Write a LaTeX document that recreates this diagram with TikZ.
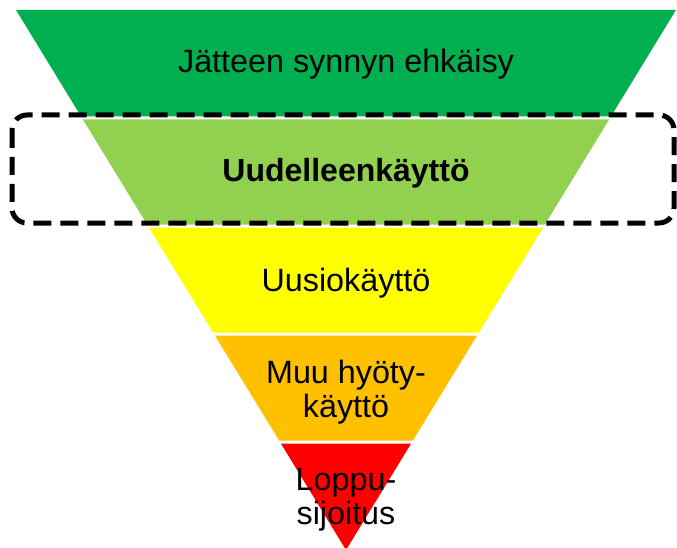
\documentclass[tikz,border=0pt]{standalone}
\usepackage{fontspec}
\setmainfont{Liberation Sans}
\definecolor{cGreen}{HTML}{00B050}
\definecolor{cLight}{HTML}{92D050}
\definecolor{cYellow}{HTML}{FFFF00}
\definecolor{cOrange}{HTML}{FFC000}
\definecolor{cRed}{HTML}{FF0000}
\begin{document}
\begin{tikzpicture}[x=1pt,y=-1pt,
  band/.style={draw=none},
  label/.style={inner sep=0pt,anchor=base,align=center,font=\fontsize{32.3}{34}\selectfont},
  focusbox/.style={draw=black,line width=5pt,dash pattern=on 18pt off 9pt,rounded corners=15pt}]
\useasboundingbox (0,0) rectangle (677,548);
% bands: half width hw(y)=0.61111*(550-y), centre x=346
\fill[cGreen]  (16,10) -- (676,10) -- (610.9,116.5) -- (81.1,116.5) -- cycle;
\fill[cLight]  (82.9,119.5) -- (609.1,119.5) -- (544.9,224.5) -- (147.1,224.5) -- cycle;
\fill[cYellow] (148.9,227.5) -- (543.1,227.5) -- (478.9,332.5) -- (213.1,332.5) -- cycle;
\fill[cOrange] (214.9,335.5) -- (477.1,335.5) -- (412.9,440.5) -- (279.1,440.5) -- cycle;
\fill[cRed]    (280.9,443.5) -- (411.1,443.5) -- (346,550) -- cycle;
% texts (multi-line nodes: base = last line's baseline)
\node[label] (t1) at (346,73) {Jätteen synnyn ehkäisy};
\node[label,font=\fontsize{32}{34}\selectfont\bfseries] (t2) at (346,182) {Uudelleenkäyttö};
\node[label] (t3) at (346,291) {Uusiokäyttö};
\node[label] (t4) at (346,417) {Muu hyöty-\\käyttö};
\node[label] (t5) at (346,524) {Loppu-\\sijoitus};
% dashed focus box
\draw[focusbox] (12,115) rectangle (674,223);
\end{tikzpicture}
\end{document}
